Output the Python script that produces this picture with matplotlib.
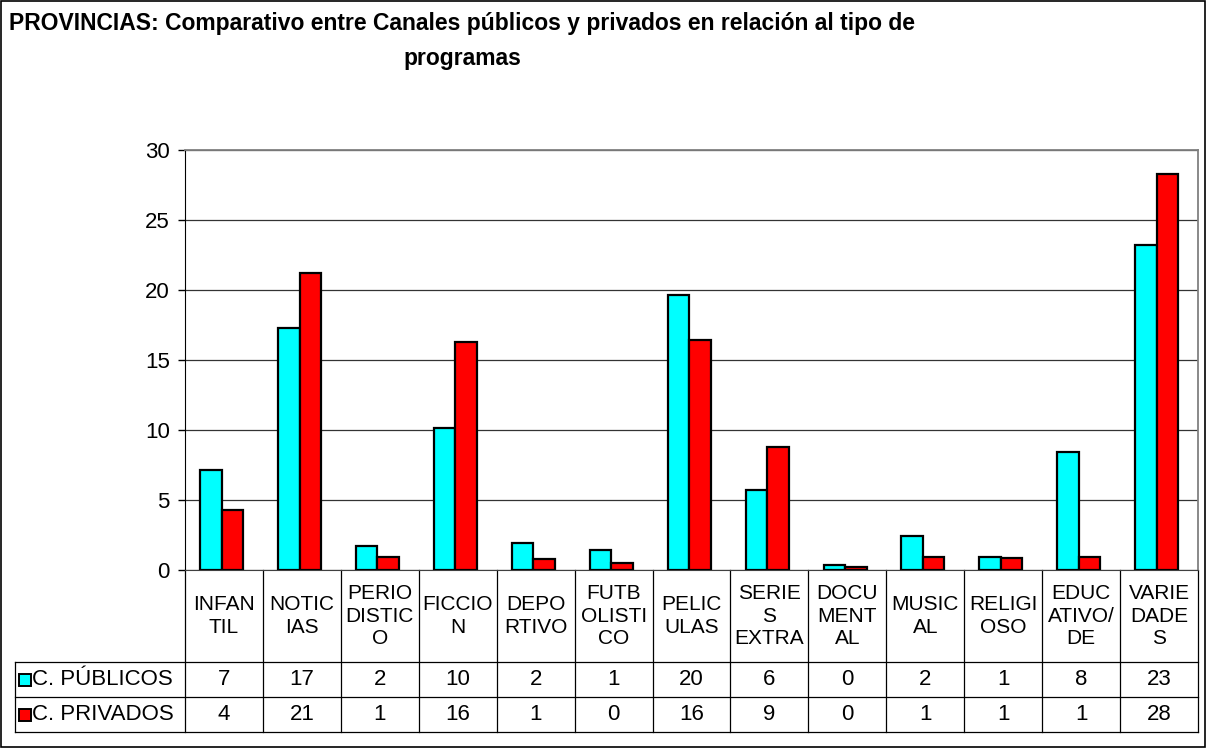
import matplotlib

matplotlib.use("Agg")
import matplotlib.pyplot as plt
from matplotlib.patches import Rectangle
from matplotlib.transforms import blended_transform_factory

CATEGORIES = [
    "INFAN\nTIL", "NOTIC\nIAS", "PERIO\nDISTIC\nO", "FICCIO\nN", "DEPO\nRTIVO",
    "FUTB\nOLISTI\nCO", "PELIC\nULAS", "SERIE\nS\nEXTRA", "DOCU\nMENT\nAL",
    "MUSIC\nAL", "RELIGI\nOSO", "EDUC\nATIVO/\nDE", "VARIE\nDADE\nS",
]
PUBLICOS = [7.14, 17.26, 1.71, 10.12, 1.9, 1.45, 19.64, 5.71, 0.36, 2.45, 0.9, 8.45, 23.21]
PRIVADOS = [4.29, 21.19, 0.9, 16.31, 0.76, 0.48, 16.43, 8.76, 0.24, 0.9, 0.86, 0.9, 28.29]
SERIES = ["C. PÚBLICOS", "C. PRIVADOS"]
COLORS = ["#00FFFF", "#FF0000"]
YTICKS = [0, 5, 10, 15, 20, 25, 30]
TITLE = "PROVINCIAS: Comparativo entre Canales públicos y privados en relación al tipo de\nprogramas"

W, H = 1207, 749
FONT = "Liberation Sans"


def fy(py):
    return 1 - py / H


def fx(px):
    return px / W


def main() -> None:
    plt.rcParams["font.family"] = [FONT, "DejaVu Sans"]
    fig = plt.figure(figsize=(W / 100, H / 100), dpi=100)
    fig.patch.set_facecolor("white")

    # plot area in pixels: x 185..1198, y 150..570
    ax = fig.add_axes([fx(185), fy(570), fx(1198 - 185), (570 - 150) / H])
    n = len(CATEGORIES)
    xs = list(range(n))
    bw = 0.276
    for vals, color, off in ((PUBLICOS, COLORS[0], -bw / 2), (PRIVADOS, COLORS[1], bw / 2)):
        ax.bar([x + off - 0.03 for x in xs], vals, width=bw, color=color,
               edgecolor="black", linewidth=1.6, zorder=3)

    ax.set_xlim(-0.5, n - 0.5)
    ax.set_ylim(0, 30)
    ax.set_yticks(YTICKS)
    ax.set_xticks([])
    ax.tick_params(axis="y", direction="out", length=5, width=1, pad=6, labelsize=16)
    ax.yaxis.grid(True, color="#333333", linewidth=0.9, zorder=0)
    ax.spines["left"].set_color("black")
    ax.spines["bottom"].set_color("#404040")
    for s in ("top", "right"):
        ax.spines[s].set_color("#808080")
        ax.spines[s].set_linewidth(1.3)

    # data table below the axis
    tr = blended_transform_factory(ax.transData, fig.transFigure)
    head_top, row1, row2, bottom = 570, 662, 697, 732
    line_kw = dict(color="black", linewidth=0.9, clip_on=False)
    for i in range(n + 1):
        ax.plot([i - 0.5, i - 0.5], [fy(head_top), fy(bottom)], transform=tr, **line_kw)
    for py in (row1, row2, bottom):
        fig.add_artist(plt.Line2D([fx(15), fx(1198)], [fy(py), fy(py)], **line_kw))
    fig.add_artist(plt.Line2D([fx(15), fx(15)], [fy(row1), fy(bottom)], **line_kw))

    for i, cat in enumerate(CATEGORIES):
        ax.text(i, fy((head_top + row1) / 2), cat, transform=tr, ha="center",
                va="center", fontsize=15, linespacing=1.25)

    for r, (name, vals, color) in enumerate(zip(SERIES, (PUBLICOS, PRIVADOS), COLORS)):
        top, bot = (row1, row2) if r == 0 else (row2, bottom)
        cy = (top + bot) / 2
        fig.add_artist(Rectangle((fx(19), fy(cy + 6)), fx(12), 12 / H,
                                 facecolor=color, edgecolor="black", linewidth=1.4))
        fig.text(fx(32), fy(cy), name, ha="left", va="center", fontsize=16)
        for i, v in enumerate(vals):
            ax.text(i, fy(cy), f"{round(v)}", transform=tr, ha="center",
                    va="center", fontsize=16)

    fig.text(fx(462), fy(12), TITLE, ha="center", va="top", multialignment="center",
             fontweight="bold", fontsize=16.5, linespacing=1.65)

    fig.add_artist(Rectangle((fx(1), fy(747)), fx(1204), 746 / H, fill=False,
                             edgecolor="black", linewidth=1.2))

    fig.savefig("out.png", dpi=100, facecolor="white")
    plt.close(fig)


if __name__ == "__main__":
    main()
